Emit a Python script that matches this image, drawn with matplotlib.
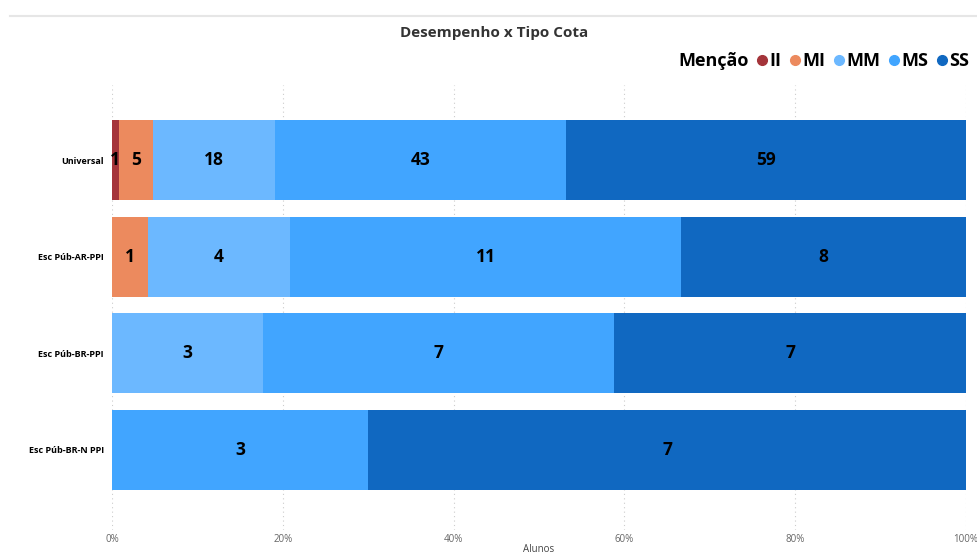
import numpy as np
import matplotlib.pyplot as plt
from matplotlib.lines import Line2D

# Dados: contagem de alunos por menção e tipo de cota
categorias = ['Universal', 'Esc Púb-AR-PPI', 'Esc Púb-BR-PPI', 'Esc Púb-BR-N PPI']
mencoes = ['II', 'MI', 'MM', 'MS', 'SS']
II = [1, 0, 0, 0]
MI = [5, 1, 0, 0]
MM = [18, 4, 3, 0]
MS = [43, 11, 7, 3]
SS = [59, 8, 7, 7]
xticks = [0, 20, 40, 60, 80, 100]

cores = ['#A4343A', '#EC8A5E', '#6CB8FF', '#41A5FF', '#1068C1']

plt.rcParams['font.family'] = ['Open Sans', 'DejaVu Sans']

contagens = np.array([II, MI, MM, MS, SS], dtype=float)
totais = contagens.sum(axis=0)
pct = contagens / totais * 100

fig = plt.figure(figsize=(9.78, 5.56), dpi=100)
# eixo: x de 112 a 966 px, y de 85 a 530 px
ax = fig.add_axes([112 / 978, 1 - 530 / 556, 854 / 978, 445 / 556])

y = np.arange(len(categorias))
esq = np.zeros(len(categorias))
for i, m in enumerate(mencoes):
    ax.barh(y, pct[i], left=esq, height=0.83, color=cores[i], label=m, zorder=2)
    for j in range(len(categorias)):
        if contagens[i, j] > 0:
            ax.text(esq[j] + pct[i, j] / 2, y[j], f'{int(contagens[i, j])}',
                    ha='center', va='center', fontsize=12.5, fontweight='bold',
                    color='black', zorder=3)
    esq += pct[i]

ax.set_xlim(0, 100)
ax.set_ylim(3.828, -0.776)
ax.set_yticks(y)
ax.set_yticklabels(categorias, fontsize=6.5, fontweight='bold')
ax.set_xticks(xticks)
ax.set_xticklabels([f'{t}%' for t in xticks], fontsize=7, color='#666666')
ax.tick_params(length=0)
ax.tick_params(axis='x', pad=3)
ax.tick_params(axis='y', pad=6)
for s in ax.spines.values():
    s.set_visible(False)
ax.grid(axis='x', linestyle=(0, (1, 3)), color='#cccccc', linewidth=0.8, zorder=0)
ax.set_xlabel('Alunos', fontsize=7, color='#444444', labelpad=-1)

fig.suptitle('Desempenho x Tipo Cota', x=0.505, y=1 - 33 / 556, va='center',
             fontsize=11, fontweight='bold', color='#333333')

# linha cinza no topo
fig.add_artist(Line2D([10 / 978, 1], [1 - 16 / 556, 1 - 16 / 556],
                      color='#e6e6e6', linewidth=1.5))

# legenda
handles = [Line2D([], [], marker='o', linestyle='', color=c, markersize=7) for c in cores]
leg = fig.legend(handles, mencoes, loc='center right', ncol=5,
                 bbox_to_anchor=(976 / 978, 1 - 61 / 556), frameon=False,
                 handletextpad=-0.2, columnspacing=0.15, handlelength=1.2,
                 prop={'weight': 'bold', 'size': 13}, borderaxespad=0)
fig.canvas.draw()
bb = leg.get_window_extent().transformed(fig.transFigure.inverted())
fig.text(bb.x0 + 0.004, 1 - 61 / 556, 'Menção', ha='right', va='center',
         fontsize=13, fontweight='bold', color='black')

fig.savefig('out.png', dpi=100)
